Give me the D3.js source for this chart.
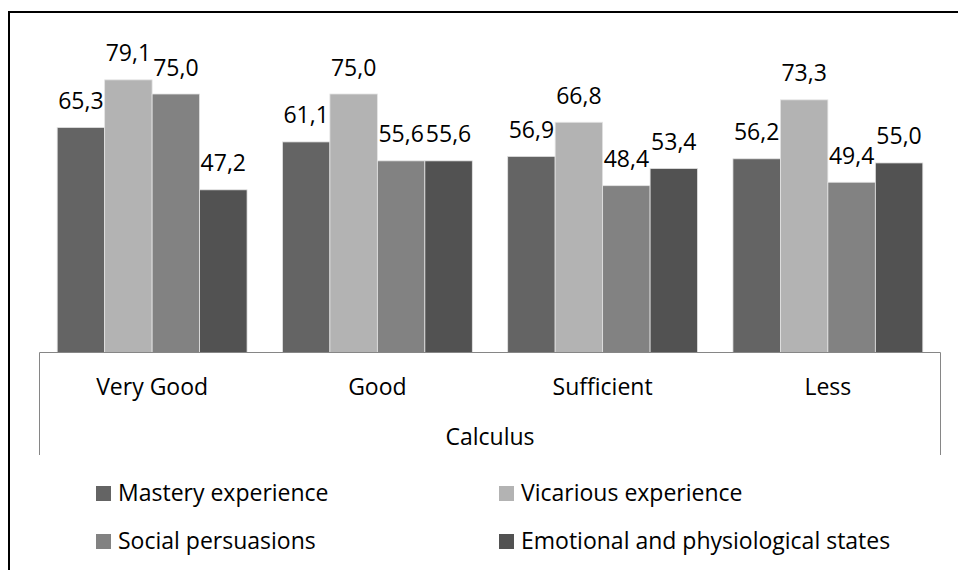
<!DOCTYPE html>
<html>
<head>
<meta charset="utf-8">
<script src="https://cdn.jsdelivr.net/npm/d3@7"></script>
<style>
  body { margin: 0; background: #fff; }
  text { font-family: "Open Sans", sans-serif; font-size: 23px; fill: #000; }
</style>
</head>
<body>
<div id="chart"></div>
<script>
var categories = ["Very Good", "Good", "Sufficient", "Less"];
var seriesNames = ["Mastery experience", "Vicarious experience",
                   "Social persuasions", "Emotional and physiological states"];
var mastery   = [65.3, 61.1, 56.9, 56.2];
var vicarious = [79.1, 75.0, 66.8, 73.3];
var social    = [75.0, 55.6, 48.4, 49.4];
var emotional = [47.2, 55.6, 53.4, 55.0];
var axisTitle = "Calculus";

var seriesValues = [mastery, vicarious, social, emotional];
var colorSet = ["#646464", "#b3b3b3", "#828282", "#525252"];

var width = 958, height = 570;
var plot = {left: 39.5, right: 940.5, top: 42.3, base: 352.5};

var svg = d3.select("#chart").append("svg")
    .attr("width", width)
    .attr("height", height);

// outer frame (cropped on the right and bottom)
svg.append("rect")
    .attr("x", 9).attr("y", 12)
    .attr("width", 970).attr("height", 600)
    .attr("fill", "none")
    .attr("stroke", "#000")
    .attr("stroke-width", 2);

var x0 = d3.scaleBand()
    .domain(categories)
    .range([plot.left, plot.right])
    .paddingInner(0.157)
    .paddingOuter(0.0785);

var x1 = d3.scaleBand()
    .domain(seriesNames)
    .range([0, x0.bandwidth()]);

var y = d3.scaleLinear()
    .domain([0, 90])
    .range([plot.base, plot.top]);

var color = d3.scaleOrdinal().domain(seriesNames).range(colorSet);
var fmt = d3.formatLocale({decimal: ",", thousands: ".", grouping: [3], currency: ["", ""]}).format(".1f");

var rows = categories.map(function(c, i) {
    return {category: c, values: seriesNames.map(function(s, j) {
        return {series: s, value: seriesValues[j][i]};
    })};
});

var group = svg.selectAll(".group")
    .data(rows)
    .enter().append("g")
    .attr("class", "group")
    .attr("transform", function(d) { return "translate(" + x0(d.category) + ",0)"; });

group.selectAll("rect")
    .data(function(d) { return d.values; })
    .enter().append("rect")
    .attr("x", function(d) { return x1(d.series); })
    .attr("y", function(d) { return y(d.value); })
    .attr("width", x1.bandwidth())
    .attr("height", function(d) { return y(0) - y(d.value); })
    .attr("fill", function(d) { return color(d.series); })
    .attr("stroke", "#e4e4e4")
    .attr("stroke-width", 0.8);

group.selectAll(".lbl")
    .data(function(d) { return d.values; })
    .enter().append("text")
    .attr("class", "lbl")
    .attr("x", function(d) { return x1(d.series) + x1.bandwidth() / 2; })
    .attr("y", function(d) { return y(d.value) - 18.5; })
    .attr("text-anchor", "middle")
    .text(function(d) { return fmt(d.value); });

// category axis with its box
var axisG = svg.append("g")
    .attr("transform", "translate(0," + plot.base + ")")
    .call(d3.axisBottom(x0).tickSize(0));
axisG.select(".domain").remove();
axisG.selectAll("text")
    .attr("dy", null)
    .attr("y", 42.5)
    .style("font-family", "'Open Sans', sans-serif")
    .style("font-size", "23px")
    .attr("fill", "#000");

svg.append("path")
    .attr("d", "M" + plot.left + ",455V" + plot.base + "H" + plot.right + "V455")
    .attr("fill", "none")
    .attr("stroke", "#868686")
    .attr("stroke-width", 1);

svg.append("text")
    .attr("x", (plot.left + plot.right) / 2)
    .attr("y", 445)
    .attr("text-anchor", "middle")
    .text(axisTitle);

// legend, two columns
var legX = [96, 499], legY = [501, 549];
var leg = svg.selectAll(".leg")
    .data(seriesNames)
    .enter().append("g")
    .attr("class", "leg")
    .attr("transform", function(d, i) { return "translate(" + legX[i % 2] + "," + legY[Math.floor(i / 2)] + ")"; });

leg.append("rect")
    .attr("x", 0).attr("y", -15)
    .attr("width", 15).attr("height", 15)
    .attr("fill", function(d) { return color(d); });

leg.append("text")
    .attr("x", 22)
    .attr("y", 0)
    .text(function(d) { return d; });
</script>
</body>
</html>
